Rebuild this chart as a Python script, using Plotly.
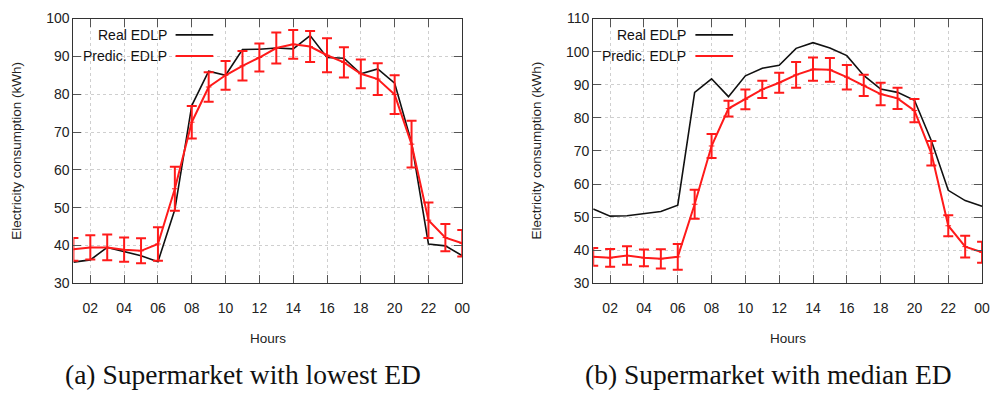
import plotly.graph_objects as go

hours = list(range(1, 25))
tick_vals = list(range(2, 25, 2))
tick_text = ["02", "04", "06", "08", "10", "12", "14", "16", "18", "20", "22", "00"]

# (a) Supermarket with lowest ED
real_a = [35.6, 36.2, 39.5, 38.3, 37.3, 35.7, 49.5, 77.0, 86.1, 85.0, 91.8, 91.9,
          92.2, 92.0, 95.5, 89.7, 89.5, 85.4, 86.7, 82.9, 67.2, 40.4, 39.9, 37.3]
pred_a = [39.0, 39.5, 39.5, 38.9, 38.6, 40.4, 55.0, 72.6, 81.9, 85.0, 87.5, 89.7,
          92.2, 93.2, 92.6, 90.3, 88.4, 85.4, 84.0, 79.9, 66.8, 46.7, 42.1, 40.6]
err_a = [3.0, 3.2, 3.4, 3.2, 3.3, 4.4, 5.8, 4.3, 3.9, 3.8, 3.9, 3.7,
         4.1, 3.8, 4.1, 4.5, 4.0, 3.8, 4.2, 5.1, 6.2, 4.7, 3.6, 3.5]

# (b) Supermarket with median ED
real_b = [52.5, 50.3, 50.4, 51.0, 51.7, 53.6, 87.7, 91.8, 86.4, 92.7, 95.0, 95.9,
          101.0, 102.7, 101.1, 98.8, 92.8, 88.7, 87.7, 85.3, 73.1, 58.1, 55.0, 53.3]
pred_b = [38.0, 37.7, 38.4, 37.7, 37.4, 38.0, 53.9, 71.5, 82.8, 85.6, 88.6, 90.6,
          93.0, 94.7, 94.5, 92.3, 89.8, 87.2, 85.9, 82.2, 69.3, 47.4, 41.1, 39.4]
err_b = [2.7, 2.7, 2.8, 2.5, 2.9, 3.9, 4.4, 3.6, 2.4, 3.0, 2.6, 3.0,
         3.9, 3.5, 3.6, 3.7, 3.2, 3.4, 3.2, 3.5, 3.7, 3.2, 3.3, 3.2]

W, H = 1000, 394
RED = "#ff1a1a"

fig = go.Figure()

def add_panel(real, pred, err, xa, ya):
    fig.add_trace(go.Scatter(x=hours, y=real, mode="lines", name="Real EDLP",
                             line=dict(color="#111111", width=1.6),
                             xaxis=xa, yaxis=ya, showlegend=False))
    fig.add_trace(go.Scatter(x=hours, y=pred, mode="lines+markers", name="Predic. EDLP",
                             line=dict(color=RED, width=2),
                             marker=dict(symbol="line-ew", size=4, color=RED,
                                         line=dict(color=RED, width=1)),
                             error_y=dict(type="data", array=err, visible=True,
                                          color=RED, thickness=2, width=5),
                             xaxis=xa, yaxis=ya, showlegend=False))

add_panel(real_a, pred_a, err_a, "x", "y")
add_panel(real_b, pred_b, err_b, "x2", "y2")

ydom = [1 - 287 / H, 1 - 11 / H]
axis_common = dict(showline=True, linecolor="#333333", linewidth=1, mirror="allticks",
                   ticks="inside", ticklen=8, tickcolor="#555555", tickwidth=1,
                   showgrid=True, gridcolor="#cfcfcf", griddash="dot", gridwidth=1,
                   zeroline=False, tickfont=dict(family="Liberation Sans", size=14, color="#222222"))

fig.update_layout(
    width=W, height=H, margin=dict(l=0, r=0, t=0, b=0),
    paper_bgcolor="white", plot_bgcolor="white",
    xaxis=dict(domain=[74 / W, 466 / W], range=[1, 24], tickvals=tick_vals, ticktext=tick_text,
               anchor="y", ticklabelstandoff=12, **axis_common),
    yaxis=dict(domain=ydom, range=[30, 100], dtick=10, anchor="x", **axis_common),
    xaxis2=dict(domain=[598 / W, 990 / W], range=[1, 24], tickvals=tick_vals, ticktext=tick_text,
                anchor="y2", ticklabelstandoff=12, **axis_common),
    yaxis2=dict(domain=ydom, range=[30, 110], dtick=10, anchor="x2", **axis_common),
)

ann = []
shapes = []
label_font = dict(family="Liberation Sans", size=13.5, color="#222222")
for x0, cap in [(74, "(a) Supermarket with lowest ED"), (598, "(b) Supermarket with median ED")]:
    # y-axis title
    ann.append(dict(x=(x0 - 57) / W, y=1 - 149 / H, xref="paper", yref="paper",
                    text="Electricity consumption (kWh)", textangle=-90, showarrow=False,
                    font=label_font, xanchor="center", yanchor="middle"))
    # x-axis title
    ann.append(dict(x=(x0 + 196) / W, y=1 - 345 / H, xref="paper", yref="paper",
                    text="Hours", showarrow=False, font=label_font,
                    xanchor="center", yanchor="middle"))
    # legend
    for i, (name, col, lw) in enumerate([("Real EDLP", "#111111", 1.6), ("Predic. EDLP", RED, 2)]):
        yy = 1 - (28 + 22 * i) / H
        ann.append(dict(x=(x0 + 96) / W, y=yy, xref="paper", yref="paper", text=name,
                        showarrow=False, font=dict(family="Liberation Sans", size=14, color="#111111"),
                        xanchor="right", yanchor="middle"))
        shapes.append(dict(type="line", xref="paper", yref="paper",
                           x0=(x0 + 103) / W, x1=(x0 + 141) / W, y0=yy, y1=yy,
                           line=dict(color=col, width=lw)))

cap_font = dict(family="Liberation Serif", size=27.5, color="#111111")
ann.append(dict(x=245 / W, y=1 - 382 / H, xref="paper", yref="paper",
                text="(a) Supermarket with lowest ED", showarrow=False,
                font=cap_font, xanchor="center", yanchor="middle"))
ann.append(dict(x=775 / W, y=1 - 382 / H, xref="paper", yref="paper",
                text="(b) Supermarket with median ED", showarrow=False,
                font=cap_font, xanchor="center", yanchor="middle"))

fig.update_layout(annotations=ann, shapes=shapes)
fig.write_html("out.html")
